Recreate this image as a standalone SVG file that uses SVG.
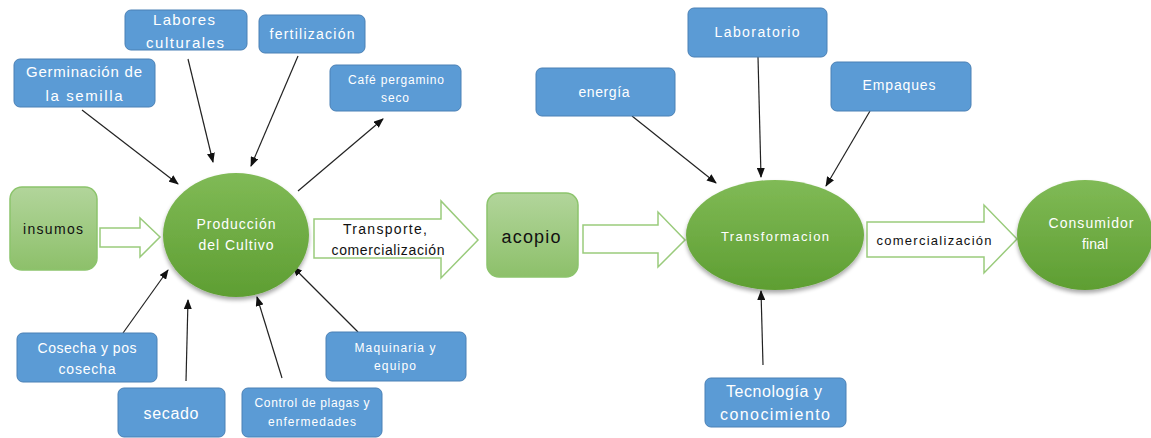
<svg xmlns="http://www.w3.org/2000/svg" width="1151" height="438" viewBox="0 0 1151 438">
<defs>
<linearGradient id="gEll" x1="0" y1="0" x2="0" y2="1">
<stop offset="0" stop-color="#80BA56"/><stop offset="1" stop-color="#5E9E32"/>
</linearGradient>
<linearGradient id="gBox" x1="0" y1="0" x2="0" y2="1">
<stop offset="0" stop-color="#B2D59B"/><stop offset="1" stop-color="#8DC06A"/>
</linearGradient>
<filter id="sh" x="-20%" y="-20%" width="140%" height="150%">
<feGaussianBlur in="SourceAlpha" stdDeviation="2"/>
<feOffset dy="3"/>
<feComponentTransfer><feFuncA type="linear" slope="0.35"/></feComponentTransfer>
<feMerge><feMergeNode/><feMergeNode in="SourceGraphic"/></feMerge>
</filter>
<marker id="ah" markerUnits="userSpaceOnUse" markerWidth="10" markerHeight="8" refX="9" refY="4" orient="auto">
<path d="M0,0 L10,4 L0,8 z" fill="#111"/>
</marker>
</defs>
<style>
.blue{fill:#5B9BD5;stroke:#4A80B5;stroke-width:1}
.lg{fill:url(#gBox);stroke:#8CC46C;stroke-width:1.5}
.ell{fill:url(#gEll);filter:url(#sh)}
.hol{fill:#fff;stroke:#9ACB7C;stroke-width:1.5}
.con{stroke:#222;stroke-width:1.2;fill:none;marker-end:url(#ah)}
text{font-family:"Liberation Sans",Arial,sans-serif;text-anchor:middle}
.w{fill:#fff}
.k{fill:#111}
</style>

<g id="connectors">
<line class="con" x1="82" y1="110" x2="178" y2="184"/>
<line class="con" x1="188" y1="59" x2="213" y2="162"/>
<line class="con" x1="298" y1="56" x2="251" y2="166"/>
<line class="con" x1="298" y1="191" x2="383" y2="119"/>
<line class="con" x1="123" y1="333" x2="168" y2="270"/>
<line class="con" x1="186" y1="381" x2="188" y2="300"/>
<line class="con" x1="282" y1="378" x2="257" y2="297"/>
<line class="con" x1="358" y1="332" x2="293" y2="267"/>
<line class="con" x1="632" y1="116" x2="716" y2="183"/>
<line class="con" x1="758" y1="57" x2="761" y2="177"/>
<line class="con" x1="870" y1="111" x2="826" y2="186"/>
<line class="con" x1="763" y1="365" x2="761" y2="291"/>
<path id="arrow-insumos" class="hol" d="M100,228 H140 V218 L160,237 L140,257 V247 H100 Z"/>
<path id="arrow-transporte" class="hol" d="M314,219 H441 V201 L478,240 L441,278 V258 H314 Z"/>
<path id="arrow-acopio" class="hol" d="M583,225 H658 V212 L685,240 L658,267 V253 H583 Z"/>
<path id="arrow-comercial" class="hol" d="M867,222 H984 V205 L1017,239 L984,273 V257 H867 Z"/>
<text class="k" x="385" y="234" font-size="14" textLength="84" lengthAdjust="spacing">Transporte,</text>
<text class="k" x="388" y="255" font-size="14" textLength="113" lengthAdjust="spacing">comercialización</text>
<text class="k" x="934" y="245" font-size="13" textLength="115" lengthAdjust="spacing">comercialización</text>
</g>

<g id="n-labores"><rect class="blue" x="125" y="10" width="122" height="40" rx="6"/>
<text class="w" x="184" y="25" font-size="15" textLength="62" lengthAdjust="spacing">Labores</text><text class="w" x="185" y="48" font-size="15" textLength="78" lengthAdjust="spacing">culturales</text></g>
<g id="n-fertilizacion"><rect class="blue" x="259" y="15" width="106" height="38" rx="6"/>
<text class="w" x="312" y="39" font-size="14" textLength="85" lengthAdjust="spacing">fertilización</text></g>
<g id="n-germinacion"><rect class="blue" x="14" y="59" width="141" height="48" rx="6"/>
<text class="w" x="84" y="77" font-size="15" textLength="116" lengthAdjust="spacing">Germinación de</text><text class="w" x="84" y="101" font-size="15" textLength="77" lengthAdjust="spacing">la semilla</text></g>
<g id="n-cafe"><rect class="blue" x="330" y="65" width="131" height="46" rx="6"/>
<text class="w" x="396" y="84" font-size="12" textLength="96" lengthAdjust="spacing">Café pergamino</text><text class="w" x="395" y="102" font-size="12" textLength="28" lengthAdjust="spacing">seco</text></g>
<g id="n-insumos"><rect class="lg" x="10" y="187" width="87" height="83" rx="12"/>
<text class="k" x="53" y="234" font-size="14" textLength="60" lengthAdjust="spacing">insumos</text></g>
<g id="n-produccion"><ellipse class="ell" cx="236" cy="235" rx="73" ry="62"/>
<text class="w" x="236" y="229" font-size="14" textLength="79" lengthAdjust="spacing">Producción</text><text class="w" x="236" y="250" font-size="14" textLength="75" lengthAdjust="spacing">del Cultivo</text></g>
<g id="n-cosecha"><rect class="blue" x="17" y="333" width="140" height="49" rx="6"/>
<text class="w" x="87" y="353" font-size="14" textLength="99" lengthAdjust="spacing">Cosecha y pos</text><text class="w" x="87" y="374" font-size="14" textLength="57" lengthAdjust="spacing">cosecha</text></g>
<g id="n-secado"><rect class="blue" x="118" y="388" width="107" height="49" rx="6"/>
<text class="w" x="171" y="419" font-size="16" textLength="55" lengthAdjust="spacing">secado</text></g>
<g id="n-control"><rect class="blue" x="242" y="388" width="140" height="49" rx="6"/>
<text class="w" x="312" y="407" font-size="12" textLength="115" lengthAdjust="spacing">Control de plagas y</text><text class="w" x="312" y="426" font-size="12" textLength="88" lengthAdjust="spacing">enfermedades</text></g>
<g id="n-maquinaria"><rect class="blue" x="326" y="332" width="140" height="49" rx="6"/>
<text class="w" x="395" y="352" font-size="12" textLength="81" lengthAdjust="spacing">Maquinaria y</text><text class="w" x="395" y="370" font-size="12" textLength="42" lengthAdjust="spacing">equipo</text></g>
<g id="n-energia"><rect class="blue" x="536" y="68" width="139" height="48" rx="6"/>
<text class="w" x="604" y="97" font-size="14" textLength="51" lengthAdjust="spacing">energía</text></g>
<g id="n-laboratorio"><rect class="blue" x="688" y="8" width="139" height="49" rx="6"/>
<text class="w" x="757" y="37" font-size="14" textLength="85" lengthAdjust="spacing">Laboratorio</text></g>
<g id="n-empaques"><rect class="blue" x="831" y="62" width="140" height="49" rx="6"/>
<text class="w" x="899" y="90" font-size="14" textLength="73" lengthAdjust="spacing">Empaques</text></g>
<g id="n-acopio"><rect class="lg" x="487" y="193" width="91" height="84" rx="12"/>
<text class="k" x="531" y="243" font-size="18" textLength="59" lengthAdjust="spacing">acopio</text></g>
<g id="n-transformacion"><ellipse class="ell" cx="775" cy="235" rx="89" ry="55"/>
<text class="w" x="775" y="241" font-size="13" textLength="108" lengthAdjust="spacing">Transformacion</text></g>
<g id="n-consumidor"><ellipse class="ell" cx="1085" cy="235" rx="68" ry="55"/>
<text class="w" x="1091" y="228" font-size="14" textLength="85" lengthAdjust="spacing">Consumidor</text><text class="w" x="1095" y="249" font-size="14" textLength="26" lengthAdjust="spacing">final</text></g>
<g id="n-tecnologia"><rect class="blue" x="705" y="378" width="141" height="49" rx="6"/>
<text class="w" x="774" y="397" font-size="16" textLength="96" lengthAdjust="spacing">Tecnología y</text><text class="w" x="775" y="420" font-size="16" textLength="110" lengthAdjust="spacing">conocimiento</text></g>
</svg>
